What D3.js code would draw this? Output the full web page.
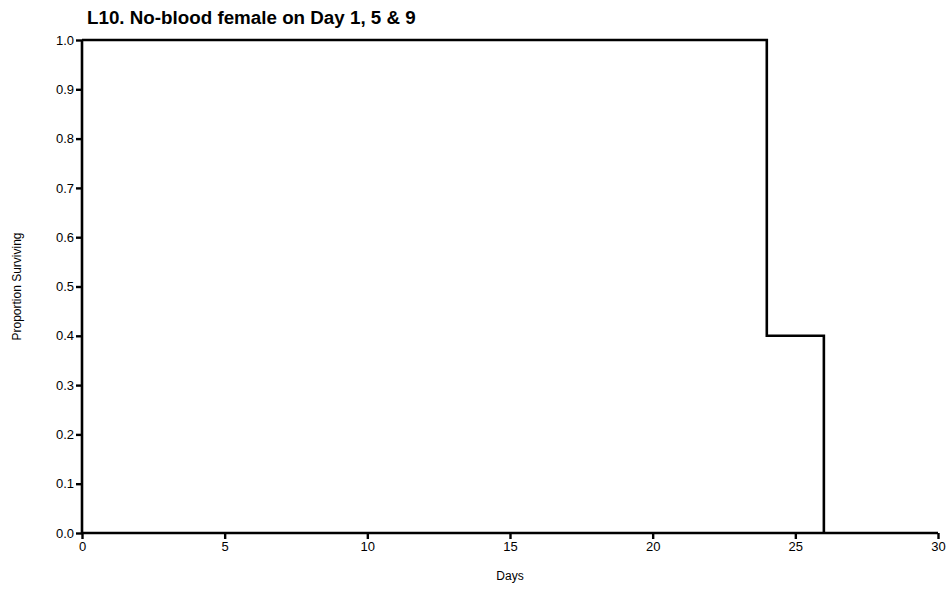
<!DOCTYPE html>
<html>
<head>
<meta charset="utf-8">
<script src="https://cdn.jsdelivr.net/npm/d3@7"></script>
<style>
  html, body { margin: 0; padding: 0; background: #fff; }
  svg { display: block; font-family: "Liberation Sans", Arial, Helvetica, sans-serif; }
</style>
</head>
<body>
<svg id="chart" width="952" height="590"></svg>
<script>
// Kaplan-Meier style survival steps
const days = [0, 24, 26];
const proportion = [1.0, 0.4, 0.0];
const xTicks = [0, 5, 10, 15, 20, 25, 30];
const yTicks = [0, 0.1, 0.2, 0.3, 0.4, 0.5, 0.6, 0.7, 0.8, 0.9, 1.0];
const titleText = "L10. No-blood female on Day 1, 5 & 9";
const xLabel = "Days";
const yLabel = "Proportion Surviving";

const W = 952, H = 590;
const margin = { top: 40, right: 14, bottom: 57, left: 82 };

const svg = d3.select("#chart");

const x = d3.scaleLinear().domain([0, 30]).range([margin.left, W - margin.right]);
const y = d3.scaleLinear().domain([0, 1]).range([H - margin.bottom, margin.top]);

// axes
const xAxis = d3.axisBottom(x).tickValues(xTicks).tickFormat(d3.format("d")).tickSize(6).tickPadding(3);
const yAxis = d3.axisLeft(y).tickValues(yTicks).tickFormat(d3.format(".1f")).tickSize(6).tickPadding(2);

const gx = svg.append("g").attr("transform", `translate(0,${y(0)})`).call(xAxis);
const gy = svg.append("g").attr("transform", `translate(${x(0)},0)`).call(yAxis);

[gx, gy].forEach(g => {
  g.select(".domain").attr("stroke", "#000").attr("stroke-width", 2.6);
  g.selectAll(".tick line").attr("stroke", "#000").attr("stroke-width", 2.4);
  g.selectAll(".tick text").attr("fill", "#000").attr("font-size", 13)
    .attr("font-family", "\"Liberation Sans\", Arial, sans-serif");
});
gx.select(".domain").attr("d", `M${x(0)},0H${x(30)}`);
gy.select(".domain").attr("d", `M0,${y(0)}V${y(1)}`);

// survival curve
const pts = days.map((d, i) => [d, proportion[i]]);
const line = d3.line()
  .x(d => x(d[0]))
  .y(d => y(d[1]))
  .curve(d3.curveStepAfter);

svg.append("path")
  .datum(pts)
  .attr("d", line)
  .attr("fill", "none")
  .attr("stroke", "#000")
  .attr("stroke-width", 2.6)
  .attr("stroke-linejoin", "miter");

// title
svg.append("text")
  .attr("x", 87)
  .attr("y", 24)
  .attr("font-size", 18.8)
  .attr("font-weight", "bold")
  .attr("fill", "#000")
  .text(titleText);

// axis titles
svg.append("text")
  .attr("x", (x(0) + x(30)) / 2)
  .attr("y", 580)
  .attr("text-anchor", "middle")
  .attr("font-size", 12)
  .attr("fill", "#000")
  .text(xLabel);

svg.append("text")
  .attr("transform", `translate(21,${(y(0) + y(1)) / 2}) rotate(-90)`)
  .attr("text-anchor", "middle")
  .attr("font-size", 12)
  .attr("fill", "#000")
  .text(yLabel);
</script>
</body>
</html>
